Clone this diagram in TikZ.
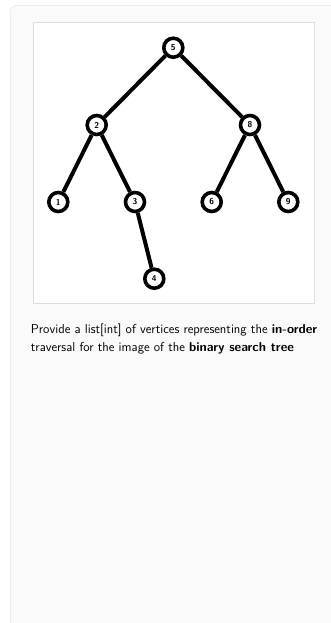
\documentclass[tikz,border=0pt]{standalone}
\usepackage{fontspec}
\begin{document}
\begin{tikzpicture}[x=1pt,y=-1pt,
  vtx/.style={circle,draw=black,line width=3.6pt,fill=white,minimum size=19pt,inner sep=0pt,font=\sffamily\bfseries\fontsize{8.5}{9}\selectfont},
  edge/.style={line width=4pt,black}]
\useasboundingbox (0,0) rectangle (330,623);
\fill[white] (0,0) rectangle (330,623);
\draw[fill={rgb,255:red,250;green,250;blue,250},draw={rgb,255:red,236;green,236;blue,236},line width=0.8pt,rounded corners=6pt] (10.5,5.5) rectangle (345,640);
\draw[fill=white,draw={rgb,255:red,221;green,221;blue,221},line width=0.8pt] (33.5,22.5) rectangle (314,303);
\node[vtx] (n5) at (173.3,47.7) {5};
\node[vtx] (n2) at (96.7,125) {2};
\node[vtx] (n8) at (250,125) {8};
\node[vtx] (n1) at (58.3,202) {1};
\node[vtx] (n3) at (135,202) {3};
\node[vtx] (n6) at (211.7,202) {6};
\node[vtx] (n9) at (288.3,202) {9};
\node[vtx] (n4) at (154.3,278.7) {4};
\draw[edge] (n5) -- (n2);
\draw[edge] (n5) -- (n8);
\draw[edge] (n2) -- (n1);
\draw[edge] (n2) -- (n3);
\draw[edge] (n8) -- (n6);
\draw[edge] (n8) -- (n9);
\draw[edge] (n3) -- (n4);
\node[anchor=base west,inner sep=0pt,font=\sffamily\fontsize{12.9}{18}\selectfont] (t1) at (30.7,333) {Provide a list[int] of vertices representing the \textbf{in-order}};
\node[anchor=base west,inner sep=0pt,font=\sffamily\fontsize{12.9}{18}\selectfont] (t2) at (30.7,351) {traversal for the image of the \textbf{binary search tree}};
\end{tikzpicture}
\end{document}
